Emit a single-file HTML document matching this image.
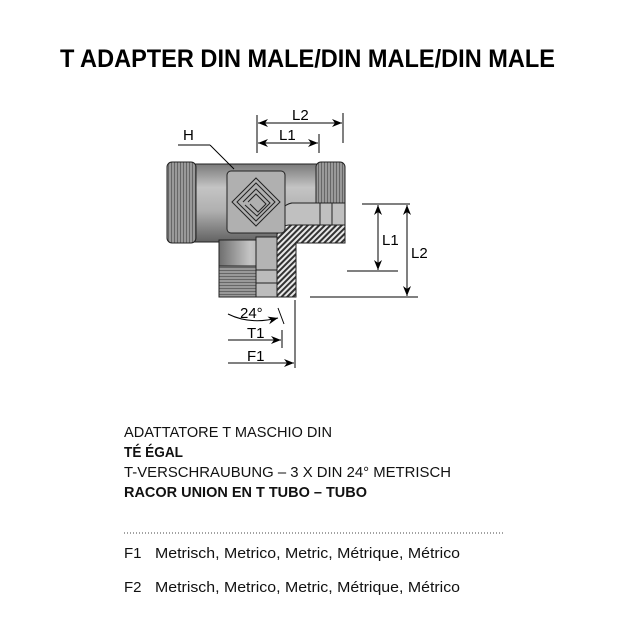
<!DOCTYPE html>
<html><head><meta charset="utf-8"><style>html,body{margin:0;padding:0;background:#fff}svg{display:block}</style></head><body>
<svg width="640" height="640" viewBox="0 0 640 640" xmlns="http://www.w3.org/2000/svg" font-family="Liberation Sans, sans-serif">
<defs>
<linearGradient id="gv" x1="0" y1="0" x2="0" y2="1"><stop offset="0" stop-color="#7a7a7a"/><stop offset="0.3" stop-color="#c4c4c4"/><stop offset="0.6" stop-color="#b0b0b0"/><stop offset="1" stop-color="#626262"/></linearGradient>
<linearGradient id="gh" x1="0" y1="0" x2="1" y2="0"><stop offset="0" stop-color="#6e6e6e"/><stop offset="0.4" stop-color="#c4c4c4"/><stop offset="1" stop-color="#8a8a8a"/></linearGradient>
<pattern id="th" width="3" height="3" patternUnits="userSpaceOnUse"><rect width="3" height="3" fill="#999"/><rect width="3" height="1" fill="#666"/></pattern>
<pattern id="tv" width="3" height="3" patternUnits="userSpaceOnUse"><rect width="3" height="3" fill="#999"/><rect width="1" height="3" fill="#666"/></pattern>
<pattern id="hat" width="4" height="4" patternUnits="userSpaceOnUse" patternTransform="rotate(45)"><rect width="4" height="4" fill="#e8e8e8"/><rect width="2" height="4" fill="#333"/></pattern>
<marker id="a" markerWidth="10" markerHeight="8" refX="10" refY="4" orient="auto-start-reverse" markerUnits="userSpaceOnUse"><path d="M0,0 L10,4 L0,8 L3,4z" fill="#000"/></marker>
</defs>
<text x="60" y="67" font-size="25" font-weight="bold" textLength="495" lengthAdjust="spacingAndGlyphs">T ADAPTER DIN MALE/DIN MALE/DIN MALE</text>

<g stroke="#222" stroke-width="1">
<rect x="194" y="164" width="124" height="78" fill="url(#gv)"/>
<rect x="219" y="240" width="77" height="57" fill="url(#gh)"/>
<rect x="167" y="162" width="29" height="81" rx="5" fill="url(#tv)"/>
<rect x="316" y="162" width="29" height="81" rx="5" fill="url(#tv)"/>
<rect x="219" y="266" width="77" height="31" fill="url(#th)"/>
<path d="M292,203 L345,203 L345,243 L296,243 L296,297 L277,297 L277,225 Q280,205 292,203z" fill="url(#hat)"/>
<path d="M292,203 L345,203 L345,225 L290,225 Q282,225 277,232 L277,222 Q280,205 292,203z" fill="#c0c0c0"/>
<rect x="256" y="237" width="21" height="60" fill="#b4b4b4"/>
<rect x="256" y="270" width="21" height="27" fill="#bcbcbc"/>
<line x1="256" y1="283" x2="277" y2="283"/>
<line x1="320" y1="203" x2="320" y2="225"/><line x1="332" y1="203" x2="332" y2="225"/>
<rect x="227" y="171" width="58" height="62" rx="4" fill="#b0b0b0"/>
</g>
<g fill="none" stroke="#222" stroke-width="1">
<path d="M256,178 L280,202 L256,226 L232,202z"/>
<path d="M256,183 L275,202 L256,221 L237,202z"/>
<path d="M248,202 L256,194 L266,204 L258,212 L250,204"/>
<path d="M243,202 L256,189 L270,203 L257,216 L245,205"/>
</g>

<g stroke="#000" stroke-width="1" fill="none">
<line x1="257" y1="115" x2="257" y2="153"/><line x1="343" y1="113" x2="343" y2="143"/><line x1="319" y1="134" x2="319" y2="153"/>
<line x1="258" y1="123" x2="342" y2="123" marker-start="url(#a)" marker-end="url(#a)"/>
<line x1="258" y1="143" x2="318" y2="143" marker-start="url(#a)" marker-end="url(#a)"/>
<line x1="362" y1="204" x2="410" y2="204"/><line x1="347" y1="271" x2="398" y2="271"/><line x1="310" y1="297" x2="418" y2="297"/>
<line x1="378" y1="205" x2="378" y2="270" marker-start="url(#a)" marker-end="url(#a)"/>
<line x1="407" y1="205" x2="407" y2="296" marker-start="url(#a)" marker-end="url(#a)"/>
<line x1="178" y1="145" x2="210" y2="145"/><line x1="210" y1="145" x2="234" y2="169"/>
<line x1="295" y1="300" x2="295" y2="368"/><line x1="282" y1="330" x2="282" y2="348"/><line x1="278" y1="308" x2="284" y2="324"/>
<path d="M228,314 Q250,325 278,318" marker-end="url(#a)"/>
<line x1="228" y1="340" x2="281" y2="340" marker-end="url(#a)"/>
<line x1="228" y1="363" x2="294" y2="363" marker-end="url(#a)"/>
</g>
<g font-size="15" fill="#000">
<text x="183" y="140">H</text>
<text x="292" y="120">L2</text>
<text x="279" y="140">L1</text>
<text x="382" y="245">L1</text>
<text x="411" y="258">L2</text>
<text x="240" y="318">24°</text>
<text x="247" y="338">T1</text>
<text x="247" y="361">F1</text>
</g>
<g font-size="15" fill="#111">
<text x="124" y="437" textLength="208" lengthAdjust="spacingAndGlyphs">ADATTATORE T MASCHIO DIN</text>
<text x="124" y="457" font-weight="bold" textLength="59" lengthAdjust="spacingAndGlyphs">TÉ ÉGAL</text>
<text x="124" y="477" textLength="327" lengthAdjust="spacingAndGlyphs">T-VERSCHRAUBUNG – 3 X DIN 24° METRISCH</text>
<text x="124" y="497" font-weight="bold" textLength="243" lengthAdjust="spacingAndGlyphs">RACOR UNION EN T TUBO – TUBO</text>
<text x="124" y="558">F1</text>
<text x="155" y="558" textLength="305" lengthAdjust="spacingAndGlyphs">Metrisch, Metrico, Metric, Métrique, Métrico</text>
<text x="124" y="592">F2</text>
<text x="155" y="592" textLength="305" lengthAdjust="spacingAndGlyphs">Metrisch, Metrico, Metric, Métrique, Métrico</text>
</g>
<line x1="124" y1="533" x2="505" y2="533" stroke="#444" stroke-width="1" stroke-dasharray="1,2"/>
</svg>
</body></html>
